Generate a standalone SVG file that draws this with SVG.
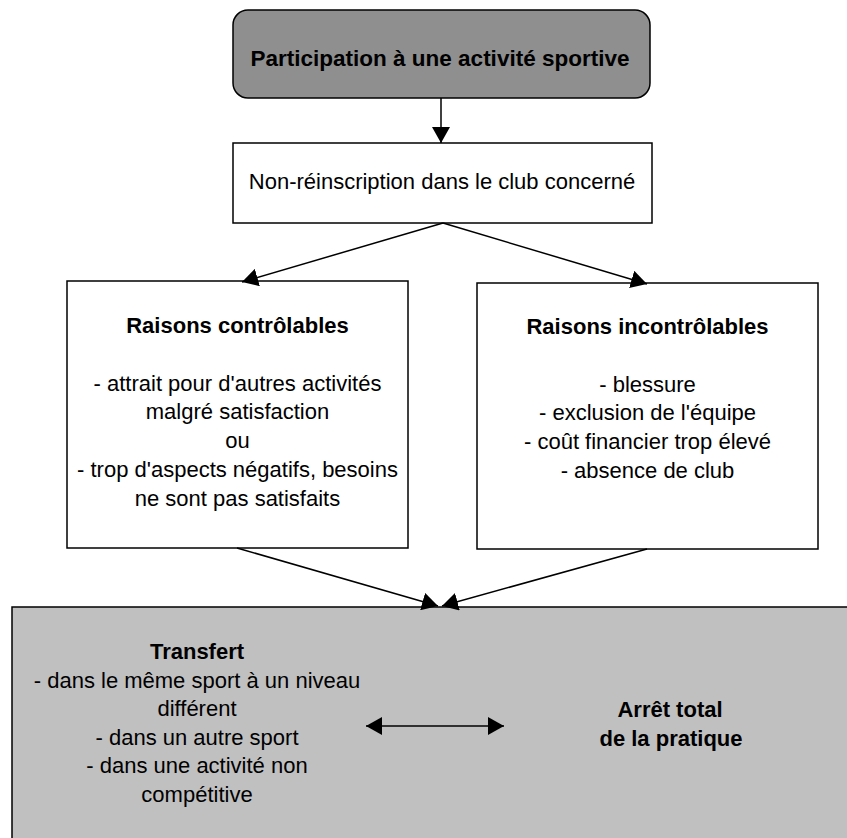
<svg xmlns="http://www.w3.org/2000/svg" width="847" height="838" viewBox="0 0 847 838">
  <defs>
    <style>
      .box { stroke: #000; stroke-width: 1.5; }
      .plain { fill: #fff; }
      .dark { fill: #8f8f8f; }
      .light { fill: #c0c0c0; }
      text { font-family: "Liberation Sans", Arial, sans-serif; font-size: 22px; fill: #000; text-anchor: middle; }
      .b { font-weight: bold; }
      .link { stroke: #000; stroke-width: 1.5; fill: none; marker-end: url(#head); }
      .both { marker-start: url(#head); }
    </style>
    <marker id="head" markerUnits="userSpaceOnUse" markerWidth="16" markerHeight="18" refX="16" refY="9" orient="auto-start-reverse" viewBox="0 0 16 18">
      <path d="M0,0 L16,9 L0,18 z" fill="#000"/>
    </marker>
  </defs>

  <rect width="847" height="838" fill="#fff"/>

  <g id="participation">
    <rect class="box dark" x="233" y="10" width="417" height="88" rx="15" ry="15"/>
    <text class="b" x="440" y="66" style="font-size:22.5px">Participation à une activité sportive</text>
  </g>

  <g id="non-reinscription">
    <rect class="box plain" x="233" y="143" width="419" height="80"/>
    <text x="442" y="189">Non-réinscription dans le club concerné</text>
  </g>

  <g id="raisons-controlables">
    <rect class="box plain" x="67" y="281" width="341" height="267"/>
    <text class="b" x="237.5" y="333">Raisons contrôlables</text>
    <text x="237.5" y="390.6">- attrait pour d'autres activités</text>
    <text x="237.5" y="419.4">malgré satisfaction</text>
    <text x="237.5" y="448.2">ou</text>
    <text x="237.5" y="477">- trop d'aspects négatifs, besoins</text>
    <text x="237.5" y="505.8">ne sont pas satisfaits</text>
  </g>

  <g id="raisons-incontrolables">
    <rect class="box plain" x="477" y="283" width="341" height="266"/>
    <text class="b" x="647.5" y="334">Raisons incontrôlables</text>
    <text x="647.5" y="391.6">- blessure</text>
    <text x="647.5" y="420.4">- exclusion de l'équipe</text>
    <text x="647.5" y="449.2">- coût financier trop élevé</text>
    <text x="647.5" y="478">- absence de club</text>
  </g>

  <g id="issue">
    <rect class="box light" x="12" y="607" width="850" height="250"/>
    <text class="b" x="197" y="659">Transfert</text>
    <text x="197" y="687.5">- dans le même sport à un niveau</text>
    <text x="197" y="716">différent</text>
    <text x="197" y="744.5">- dans un autre sport</text>
    <text x="197" y="773">- dans une activité non</text>
    <text x="197" y="801.5">compétitive</text>
    <text class="b" x="670" y="717">Arrêt total</text>
    <text class="b" x="671" y="746">de la pratique</text>
  </g>

  <g id="connectors">
    <line class="link" x1="441" y1="98" x2="441" y2="143"/>
    <line class="link" x1="443" y1="223" x2="242" y2="282"/>
    <line class="link" x1="443" y1="223" x2="647" y2="284"/>
    <line class="link" x1="237" y1="548" x2="438" y2="606"/>
    <line class="link" x1="647" y1="549" x2="442" y2="606"/>
    <line class="link both" x1="366" y1="726" x2="504" y2="726"/>
  </g>
</svg>
